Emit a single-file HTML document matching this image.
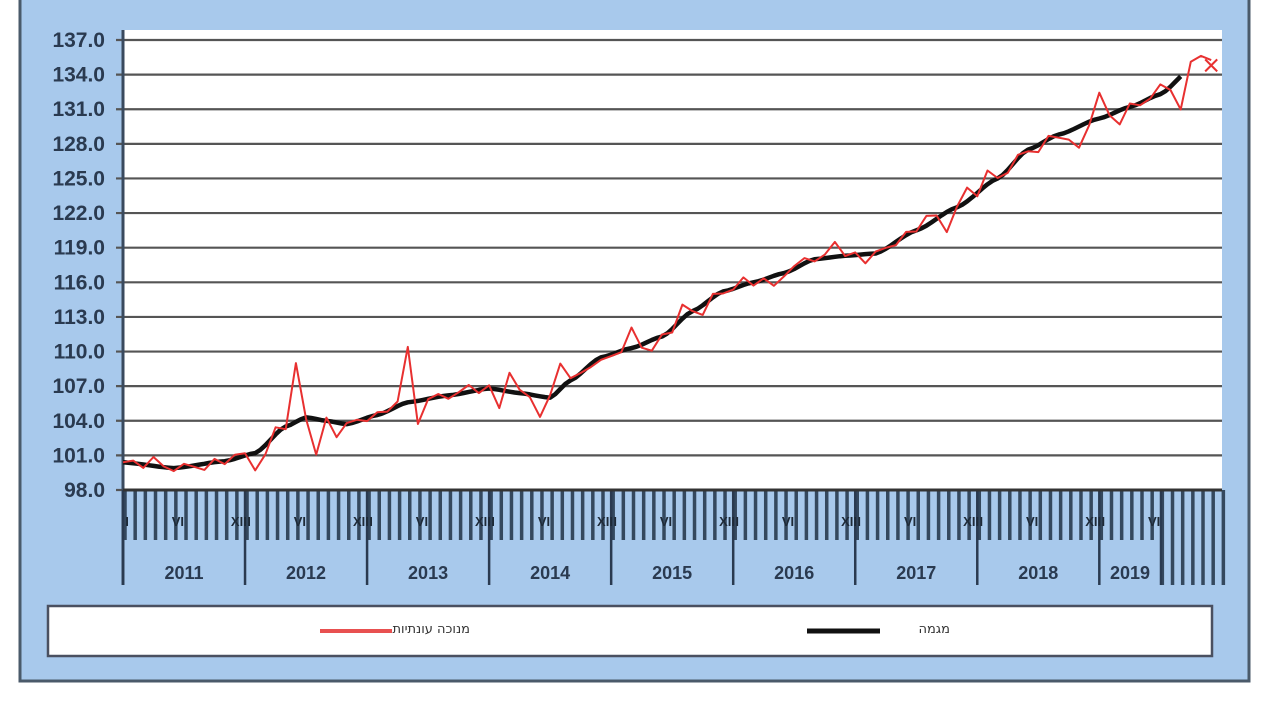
<!DOCTYPE html>
<html><head><meta charset="utf-8">
<style>
html,body{margin:0;padding:0;background:#fff;width:1280px;height:720px;overflow:hidden}
svg{display:block}
text{font-family:"Liberation Sans","Noto Sans CJK SC",sans-serif}
.heb{position:absolute;top:622px;font:13px "DejaVu Sans","Liberation Sans",sans-serif;color:#333;direction:rtl;white-space:nowrap}
</style></head>
<body>
<svg id="s" width="1280" height="720" xmlns="http://www.w3.org/2000/svg">
<rect x="20" y="-5" width="1229" height="686" fill="#a8c9ec" stroke="#4a5a6a" stroke-width="3"/>
<rect x="123" y="30" width="1099" height="460" fill="#fff"/>
<g id="grid"></g>
<g id="ticks"></g>
<g id="ylab" font-size="21" font-weight="bold" fill="#2a3a50" text-anchor="end"></g>
<rect x="48" y="606" width="1164" height="50" fill="#fff" stroke="#4a5060" stroke-width="2.5"/>
<line x1="320" y1="631" x2="392" y2="631" stroke="#e85050" stroke-width="4"/>
<line x1="807" y1="631" x2="880" y2="631" stroke="#111" stroke-width="5"/>
<g id="series"></g>
</svg>
<div class="heb" style="right:810px">מנוכה עונתיות</div>
<div class="heb" style="right:330px">מגמה</div>
<script>
var NS="http://www.w3.org/2000/svg";
function el(p,t,a,txt){var e=document.createElementNS(NS,t);for(var k in a)e.setAttribute(k,a[k]);if(txt)e.textContent=txt;document.getElementById(p).appendChild(e);return e;}
function Y(v){return 490-(v-98)*(450/39);}
function X(m){return 123+m*10.17;}
for(var v=98;v<=137;v+=3){var y=Y(v);
 el("grid","line",{x1:116,x2:1222,y1:y,y2:y,stroke:"#555",'stroke-width':2.2});
 el("ylab","text",{x:105,y:y+7},v.toFixed(1));}
el("grid","line",{x1:123,x2:123,y1:30,y2:585,stroke:"#3a4a5e",'stroke-width':3});
for(var m=0;m<109;m++){var x=X(m)+2;
 var deep = m>=102;
 el("ticks","line",{x1:x,x2:x,y1:490,y2:deep?585:540,stroke:"#34485e",'stroke-width':3.5});}
for(var yr=0;yr<=8;yr++){var x=X(yr*12);
 el("ticks","line",{x1:x,x2:x,y1:490,y2:585,stroke:"#2a3a50",'stroke-width':2.5});
 if(yr<8){el("ticks","text",{x:x+61,y:579,'font-size':18,'font-weight':'bold',fill:'#2a3a50','text-anchor':'middle'},(2011+yr)+"");}
}
el("ticks","text",{x:1130,y:579,'font-size':18,'font-weight':'bold',fill:'#2a3a50','text-anchor':'middle'},"2019");
el("ticks","line",{x1:1161,x2:1161,y1:490,y2:585,stroke:"#2a3a50",'stroke-width':2.5});
for(var yr=0;yr<=8;yr++){
 [[0,"I"],[5,"VI"],[11,"XII"]].forEach(function(p){
  if(yr==8&&p[0]==11)return;
  el("ticks","text",{x:X(yr*12+p[0])+4,y:526,'font-size':13,'font-weight':'bold',fill:'#1e2a38','text-anchor':'middle'},p[1]);});}
el("ticks","line",{x1:123,x2:1222,y1:490,y2:490,stroke:"#333",'stroke-width':3});
var K=[[0,100.4],[5,99.9],[10,100.5],[13,101.2],[16,103.5],[18,104.3],[20,104],[22,103.7],[25,104.5],[28,105.6],[32,106.2],[36,106.8],[39,106.4],[42,106],[44,107.5],[47,109.5],[50,110.3],[53,111.3],[56,113.5],[59,115.2],[62,116],[65,116.8],[68,118],[71,118.3],[74,118.5],[78,120.5],[82,122.5],[86,125],[89,127.5],[92,128.8],[96,130.2],[99,131.2],[102,132.3],[105,134.5],[108,135.2]];
function B(m){for(var i=0;i<K.length-1;i++){if(m<=K[i+1][0]){var a=K[i],b=K[i+1],t=(m-a[0])/(b[0]-a[0]);t=t*t*(3-2*t)*0.5+t*0.5;return a[1]+(b[1]-a[1])*t;}}return K[K.length-1][1];}
var off={3:0.6,8:-0.4,11:0.3,13:-1.2,14:-1,15:0.6,17:4.8,19:-3,21:-1,27:0.6,28:4.5,29:-1.8,34:0.5,37:-1.5,38:1.8,41:-1.8,43:2.5,47:-0.5,50:1.5,52:-1,55:1,57:-0.6,61:0.4,64:-1,67:0.5,70:1.5,73:-0.5,79:1,81:-1.5,83:1,85:1,90:-0.5,93:-0.8,94:-2,96:2,98:-1,102:0.6,104:-3,105:0.5,106:1.2,107:0};
var r="";for(var m=0;m<=107;m++){var v=B(m)+(off[m]||0)+0.3*Math.sin(m*2.3);r+=(m?"L":"M")+X(m).toFixed(1)+","+Y(v).toFixed(1);}
var b="";for(var m=0;m<=104;m+=0.5){b+=(m?"L":"M")+X(m).toFixed(1)+","+Y(B(m)).toFixed(1);}
el("series","path",{d:b,fill:"none",stroke:"#111",'stroke-width':4.5,'stroke-linejoin':'round'});
el("series","path",{d:r,fill:"none",stroke:"#e83030",'stroke-width':2,'stroke-linejoin':'round'});
var xe=X(107),ye=Y(134.8);
el("series","path",{d:"M"+(xe-6)+","+(ye-6)+"L"+(xe+6)+","+(ye+6)+"M"+(xe-6)+","+(ye+6)+"L"+(xe+6)+","+(ye-6),stroke:"#e83030",'stroke-width':2});
</script>
</body></html>
